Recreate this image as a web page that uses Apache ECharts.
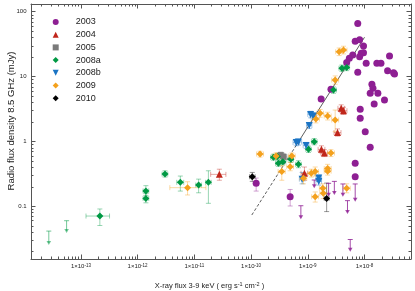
<!DOCTYPE html>
<html><head><meta charset="utf-8">
<script src="https://cdn.jsdelivr.net/npm/echarts@6/dist/echarts.min.js"></script>
<style>html,body{margin:0;padding:0;background:#fff}#c{width:415px;height:291px}</style>
</head><body><div id="c"></div>
<script>
// ---------- data (X-ray flux erg/s/cm2, radio flux mJy) ----------
const seriesNames = ['2003', '2004', '2005', '2008a', '2008b', '2009', '2010'];
const xTickExponents = [-13, -12, -11, -10, -9, -8];
const yTickValues = [0.1, 1, 10, 100];

// rows: [x, y, xLo, xHi, yLo, yHi]
const data2003 = [
  [7.6e-9, 66], [6.85e-9, 35], [8.2e-9, 37], [9.6e-9, 29.5], [6.2e-9, 21.4], [5.4e-9, 19.1],
  [4.85e-9, 16.5], [8.75e-9, 22.8], [9.6e-9, 23.3], [8.2e-9, 20.2], [1.07e-8, 16], [7.6e-9, 11.6],
  [1.65e-8, 16], [1.95e-8, 16], [2.76e-8, 20.7], [2.55e-8, 12.3], [3.25e-8, 11.4], [3.38e-8, 10.9],
  [2.56e-9, 6.33], [1.72e-9, 4.49], [1.35e-8, 7.57], [1.41e-8, 6.56], [1.26e-8, 5.5], [1.72e-8, 5.5],
  [2.25e-8, 4.33], [1.48e-8, 3.76], [8.4e-9, 3.11], [8.4e-9, 2.26], [1.03e-8, 1.40], [1.26e-8, 0.805],
  [6.85e-9, 0.456], [6.85e-9, 0.283],
  [1.23e-10, 0.224, null, null, 0.17, 0.27], [4.89e-10, 0.139, null, null, 0.10, 0.18]
];
// upper limits: [x, yLimit, yArrowTip]
const limits2003 = [
  [7.55e-10, 0.101, 0.0622], [1.30e-9, 0.252, 0.188], [2.33e-9, 0.224, 0.139], [2.94e-9, 0.24, 0.148],
  [4.16e-9, 0.219, 0.139], [5.01e-9, 0.121, 0.075], [6.85e-9, 0.219, 0.116], [5.6e-9, 0.0304, 0.0197]
];
const data2004 = [
  [3.88e-9, 3.22, 3.4e-9, 4.45e-9, 2.85, 3.65], [4.26e-9, 2.96, 3.7e-9, 4.9e-9, 2.6, 3.35],
  [3.34e-9, 1.36, 2.9e-9, 3.85e-9, 1.2, 1.55], [1.74e-9, 0.75, 1.52e-9, 2.0e-9, 0.66, 0.85],
  [1.96e-9, 0.658, 1.7e-9, 2.25e-9, 0.58, 0.74], [8.73e-10, 0.32, 7.6e-10, 1.0e-9, 0.25, 0.40],
  [2.76e-11, 0.308, 1.94e-11, 3.6e-11, 0.25, 0.37]
];
const data2005 = [
  [3.34e-10, 0.612, 2.9e-10, 3.85e-10, 0.55, 0.68], [3.75e-10, 0.575, 3.25e-10, 4.3e-10, 0.52, 0.64]
];
const data2008a = [
  [2.16e-13, 0.070, 1.23e-13, 3.2e-13, 0.05, 0.09],
  [1.40e-12, 0.171, 1.25e-12, 1.57e-12, 0.145, 0.206], [1.40e-12, 0.131, 1.25e-12, 1.57e-12, 0.112, 0.155],
  [3.04e-12, 0.312, 2.7e-12, 3.4e-12, 0.28, 0.35], [5.66e-12, 0.232, 4.9e-12, 6.5e-12, 0.17, 0.29],
  [1.19e-11, 0.211, 1.06e-11, 1.34e-11, 0.16, 0.26], [1.77e-11, 0.232, 1.58e-11, 1.98e-11, 0.11, 0.35],
  [2.48e-10, 0.565, 2.2e-10, 2.8e-10, 0.51, 0.63], [2.91e-10, 0.58, 2.6e-10, 3.3e-10, 0.52, 0.65],
  [3.63e-10, 0.483, 3.2e-10, 4.1e-10, 0.43, 0.54], [3.03e-10, 0.456, 2.7e-10, 3.4e-10, 0.41, 0.51],
  [5.03e-10, 0.526, 4.5e-10, 5.6e-10, 0.47, 0.59], [6.85e-10, 0.44, 6.1e-10, 7.7e-10, 0.39, 0.50],
  [1.30e-9, 0.984, 1.16e-9, 1.46e-9, 0.88, 1.1], [1.03e-9, 0.75, 9.2e-10, 1.15e-9, 0.67, 0.84],
  [3.99e-9, 13.4, 3.55e-9, 4.5e-9, 12.0, 15.0], [4.85e-9, 13.8, 4.3e-9, 5.45e-9, 12.3, 15.4],
  [2.84e-9, 6.18, 2.53e-9, 3.2e-9, 5.5, 6.9]
];
const limits2008a = [[2.72e-14, 0.041, 0.025], [5.6e-14, 0.0593, 0.0383]];
const data2008b = [
  [1.12e-9, 2.59, 1.0e-9, 1.26e-9, 2.3, 2.9], [1.24e-9, 2.45, 1.1e-9, 1.4e-9, 2.2, 2.75],
  [1.06e-9, 1.75, 9.5e-10, 1.18e-9, 1.57, 1.95], [6.24e-10, 0.955, 5.5e-10, 7.1e-10, 0.85, 1.07],
  [6.85e-10, 0.97, 6.0e-10, 7.8e-10, 0.87, 1.08], [9.35e-10, 0.859, 8.3e-10, 1.05e-9, 0.77, 0.96],
  [7.95e-10, 0.26, 7.1e-10, 8.9e-10, 0.22, 0.33], [1.56e-9, 0.27, 1.39e-9, 1.75e-9, 0.24, 0.30],
  [1.56e-9, 0.24, 1.39e-9, 1.75e-9, 0.21, 0.27]
];
const data2009 = [
  [7.6e-12, 0.192, 3.7e-12, 1.6e-11, 0.148, 0.237], [1.44e-10, 0.635, 1.25e-10, 1.66e-10, 0.57, 0.70],
  [2.76e-10, 0.591, 2.4e-10, 3.2e-10, 0.53, 0.66], [5.24e-10, 0.591, 4.55e-10, 6.0e-10, 0.53, 0.66],
  [4.89e-10, 0.404, 4.25e-10, 5.6e-10, 0.35, 0.47], [3.48e-10, 0.341, 3.0e-10, 4.0e-10, 0.25, 0.42],
  [3.57e-9, 24.1, 3.1e-9, 4.1e-9, 21, 27.5], [4.26e-9, 25.6, 3.7e-9, 4.9e-9, 22.3, 29.3],
  [3.04e-9, 8.81, 2.65e-9, 3.5e-9, 7.6, 10.2], [1.65e-9, 2.70, 1.43e-9, 1.9e-9, 2.35, 3.1],
  [1.39e-9, 2.20, 1.2e-9, 1.6e-9, 1.92, 2.52], [2.24e-9, 2.45, 1.95e-9, 2.58e-9, 2.13, 2.8],
  [3.04e-9, 2.13, 2.65e-9, 3.5e-9, 1.40, 3.03], [2.56e-9, 0.658, 2.22e-9, 2.95e-9, 0.58, 0.74],
  [1.15e-9, 0.32, 1.0e-9, 1.32e-9, 0.28, 0.37], [1.35e-9, 0.341, 1.17e-9, 1.55e-9, 0.29, 0.40],
  [2.24e-9, 0.38, 1.95e-9, 2.58e-9, 0.33, 0.44], [2.24e-9, 0.345, 1.95e-9, 2.58e-9, 0.30, 0.40],
  [8.38e-10, 0.268, 7.3e-10, 9.6e-10, 0.22, 0.32], [1.84e-9, 0.188, 1.6e-9, 2.12e-9, 0.16, 0.22],
  [1.35e-9, 0.139, 1.17e-9, 1.55e-9, 0.115, 0.165], [1.88e-9, 0.157, 1.63e-9, 2.16e-9, 0.13, 0.19],
  [4.85e-9, 0.188, 4.2e-9, 5.6e-9, 0.16, 0.22]
];
const data2010 = [
  [1.05e-10, 0.283, 9.4e-11, 1.18e-10, 0.24, 0.33], [2.15e-9, 0.131, 1.95e-9, 2.37e-9, 0.082, 0.226]
];
// correlation line: dashed part then solid part
const fitDashedX = [1.03e-10, 6e-10];
const fitDashedY = [0.0726, 0.815];
const fitSolidX = [6e-10, 1e-8];
const fitSolidY = [0.815, 40.3];

// ---------- styling ----------
const FONT = 'Liberation Sans, Arial, sans-serif';
const colors = {
  '2003': '#8e1f93', '2004': '#c0261b', '2005': '#7a7a7a', '2008a': '#009944',
  '2008b': '#1b74c4', '2009': '#f4a11d', '2010': '#000000'
};
const symbols = {
  '2003': ['circle', 7, 0], '2004': ['triangle', 7, 0], '2005': ['rect', 6, 0], '2008a': ['diamond', 7, 0],
  '2008b': ['triangle', 7, 180], '2009': ['diamond', 7, 0], '2010': ['diamond', 7, 0]
};
const legendIcons = {
  '2003': 'circle', '2004': 'triangle', '2005': 'rect', '2008a': 'diamond',
  '2008b': 'path://M0,0L10,0L5,10Z', '2009': 'diamond', '2010': 'diamond'
};
const dataBy = {
  '2003': data2003, '2004': data2004, '2005': data2005, '2008a': data2008a,
  '2008b': data2008b, '2009': data2009, '2010': data2010
};
const X_MIN = 1.32e-14, X_MAX = 6.6e-8, Y_MIN = 0.0152, Y_MAX = 131.5;

function alpha(hex, a) {
  const n = parseInt(hex.slice(1), 16);
  return 'rgba(' + (n >> 16 & 255) + ',' + (n >> 8 & 255) + ',' + (n & 255) + ',' + a + ')';
}

function errSeries(rows, color) {
  return {
    type: 'custom', silent: true, z: 2, clip: false,
    data: rows.map((r, i) => [r[0], r[1], i]),
    encode: { x: 0, y: 1 },
    renderItem: function (params, api) {
      const r = rows[api.value(2)];
      const ch = [];
      const st = { stroke: color, lineWidth: 1 };
      const c = 2.5;
      if (r[2] != null) {
        const a = api.coord([r[2], r[1]]), b = api.coord([r[3], r[1]]);
        ch.push({ type: 'line', shape: { x1: a[0], y1: a[1], x2: b[0], y2: b[1] }, style: st });
        ch.push({ type: 'line', shape: { x1: a[0], y1: a[1] - c, x2: a[0], y2: a[1] + c }, style: st });
        ch.push({ type: 'line', shape: { x1: b[0], y1: b[1] - c, x2: b[0], y2: b[1] + c }, style: st });
      }
      if (r[4] != null) {
        const a = api.coord([r[0], r[4]]), b = api.coord([r[0], r[5]]);
        ch.push({ type: 'line', shape: { x1: a[0], y1: a[1], x2: b[0], y2: b[1] }, style: st });
        ch.push({ type: 'line', shape: { x1: a[0] - c, y1: a[1], x2: a[0] + c, y2: a[1] }, style: st });
        ch.push({ type: 'line', shape: { x1: b[0] - c, y1: b[1], x2: b[0] + c, y2: b[1] }, style: st });
      }
      return { type: 'group', children: ch };
    }
  };
}

function limitSeries(rows, color) {
  return {
    type: 'custom', silent: true, z: 2, clip: false,
    data: rows.map((r, i) => [r[0], r[1], i]),
    encode: { x: 0, y: 1 },
    renderItem: function (params, api) {
      const r = rows[api.value(2)];
      const t = api.coord([r[0], r[1]]), b = api.coord([r[0], r[2]]);
      const st = { stroke: color, lineWidth: 1 };
      return {
        type: 'group', children: [
          { type: 'line', shape: { x1: t[0], y1: t[1], x2: b[0], y2: b[1] - 2 }, style: st },
          { type: 'line', shape: { x1: t[0] - 2.5, y1: t[1], x2: t[0] + 2.5, y2: t[1] }, style: st },
          { type: 'polygon', shape: { points: [[b[0] - 2.3, b[1] - 4], [b[0] + 2.3, b[1] - 4], [b[0], b[1]]] }, style: { fill: color } }
        ]
      };
    }
  };
}

const minorTickSeries = {
  type: 'custom', silent: true, z: 1, clip: false,
  data: [[1e-10, 1]],
  renderItem: function (params, api) {
    const cs = params.coordSys;
    const ch = [];
    const st = { stroke: '#555', lineWidth: 1 };
    const L = 2.5;
    for (let k = -15; k <= -7; k++) {
      for (let m = 2; m <= 9; m++) {
        const v = m * Math.pow(10, k);
        if (v <= X_MIN || v >= X_MAX) continue;
        const x = Math.round(api.coord([v, 1])[0]) + 0.5;
        ch.push({ type: 'line', shape: { x1: x, y1: cs.y + cs.height, x2: x, y2: cs.y + cs.height - L }, style: st });
        ch.push({ type: 'line', shape: { x1: x, y1: cs.y, x2: x, y2: cs.y + L }, style: st });
      }
    }
    for (let k = -3; k <= 2; k++) {
      for (let m = 2; m <= 9; m++) {
        const v = m * Math.pow(10, k);
        if (v <= Y_MIN || v >= Y_MAX) continue;
        const y = Math.round(api.coord([1e-10, v])[1]) + 0.5;
        ch.push({ type: 'line', shape: { x1: cs.x, y1: y, x2: cs.x + L, y2: y }, style: st });
        ch.push({ type: 'line', shape: { x1: cs.x + cs.width, y1: y, x2: cs.x + cs.width - L, y2: y }, style: st });
      }
    }
    return { type: 'group', children: ch };
  }
};

const axisLine = { show: true, lineStyle: { color: '#555', width: 1 } };
const majorTick = { show: true, inside: true, length: 4.5, lineStyle: { color: '#555', width: 1 } };

const series = [minorTickSeries];
series.push({
  type: 'line', name: 'fitDashed', silent: true, symbol: 'none', z: 1,
  data: fitDashedX.map((x, i) => [x, fitDashedY[i]]),
  lineStyle: { color: '#333', width: 0.8, type: [3, 2] }
});
series.push({
  type: 'line', name: 'fitSolid', silent: true, symbol: 'none', z: 1,
  data: fitSolidX.map((x, i) => [x, fitSolidY[i]]),
  lineStyle: { color: '#333', width: 0.8, type: 'solid' }
});
seriesNames.forEach(function (n) {
  series.push(errSeries(dataBy[n], alpha(colors[n], 0.4)));
});
series.push(limitSeries(limits2003, alpha(colors['2003'], 0.8)));
series.push(limitSeries(limits2008a, alpha(colors['2008a'], 0.55)));
seriesNames.forEach(function (n) {
  series.push({
    type: 'scatter', name: n, z: 3,
    symbol: symbols[n][0], symbolSize: symbols[n][1], symbolRotate: symbols[n][2],
    data: dataBy[n].map(r => [r[0], r[1]]),
    itemStyle: { color: colors[n], opacity: 1 }
  });
});

const chart = echarts.init(document.getElementById('c'), null, { renderer: 'canvas' });
chart.setOption({
  animation: false,
  backgroundColor: '#fff',
  grid: { left: 31, right: 4, top: 4, bottom: 32, outerBoundsMode: 'none' },
  legend: {
    data: seriesNames.map(n => ({ name: n, icon: legendIcons[n] })),
    orient: 'vertical', left: 52.7, top: 17.5, padding: 0,
    itemWidth: 6, itemHeight: 6, itemGap: 3.7, symbolKeepAspect: true,
    textStyle: { fontSize: 9, lineHeight: 9, color: '#222', fontFamily: FONT, padding: [0, 0, 0, 12] },
    selectedMode: false
  },
  xAxis: [{
    type: 'log', logBase: 10, min: X_MIN, max: X_MAX, position: 'bottom',
    axisLine: axisLine, axisTick: majorTick, splitLine: { show: false },
    axisLabel: {
      show: true, margin: 4, showMinLabel: false, showMaxLabel: false, color: '#222',
      formatter: function (v) {
        const e = Math.round(Math.log10(v));
        if (xTickExponents.indexOf(e) < 0) return '';
        return '{a|1×10}{b|' + e + '}';
      },
      rich: {
        a: { fontSize: 6, fontFamily: FONT, color: '#222', verticalAlign: 'bottom' },
        b: { fontSize: 4.5, fontFamily: FONT, color: '#222', verticalAlign: 'top' }
      }
    }
  }, {
    type: 'log', logBase: 10, min: X_MIN, max: X_MAX, position: 'top',
    axisLine: axisLine, axisTick: majorTick, splitLine: { show: false }, axisLabel: { show: false }
  }],
  yAxis: [{
    type: 'log', logBase: 10, min: Y_MIN, max: Y_MAX, position: 'left',
    axisLine: axisLine, axisTick: majorTick, splitLine: { show: false },
    axisLabel: {
      margin: 4.5, showMinLabel: false, showMaxLabel: false, fontSize: 6, fontFamily: FONT, color: '#222',
      formatter: function (v) {
        for (const t of yTickValues) { if (Math.abs(v - t) / t < 1e-6) return String(t); }
        return '';
      }
    }
  }, {
    type: 'log', logBase: 10, min: Y_MIN, max: Y_MAX, position: 'right',
    axisLine: axisLine, axisTick: majorTick, splitLine: { show: false }, axisLabel: { show: false }
  }],
  graphic: [
    {
      type: 'text', x: 209.5, y: 285.5,
      style: {
        text: 'X-ray flux 3-9 keV ( erg s{s|-1} cm{s|-2} )',
        rich: { s: { fontSize: 5.5, verticalAlign: 'top', fontFamily: FONT, fill: '#222' } },
        fontSize: 7.5, fontFamily: FONT, fill: '#222', align: 'center', verticalAlign: 'middle'
      }
    },
    {
      type: 'text', x: 11.5, y: 121, rotation: Math.PI / 2,
      style: {
        text: 'Radio flux density 8.5 GHz (mJy)',
        fontSize: 9.5, fontFamily: FONT, fill: '#222', align: 'center', verticalAlign: 'middle'
      }
    }
  ],
  series: series
});
</script>
</body></html>
